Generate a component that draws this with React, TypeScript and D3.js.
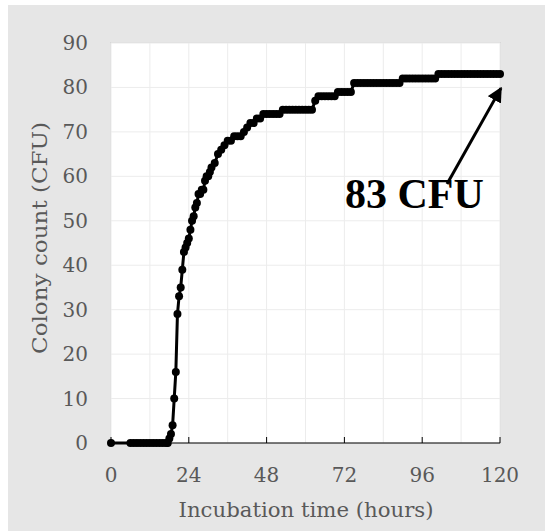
import React from "react";
import * as d3 from "d3";

const timesHours: number[] = [
  0, 6, 7, 8, 9, 10, 11, 12, 13, 14, 15, 16, 17, 17.5, 18, 18.5, 19, 19.5, 20, 20.5,
  21, 21.5, 22, 22.5, 23, 23.5, 24, 24.5, 25, 25.5, 26, 26.5, 27, 27.5, 28, 28.5,
  29, 29.5, 30, 30.5, 31, 32, 33, 34, 35, 36, 37, 38, 39, 40, 41, 42, 43, 44, 45,
  46, 47, 48, 49, 50, 51, 52, 53, 54, 55, 56, 57, 58, 59, 60, 61, 62, 63, 64, 65,
  66, 67, 68, 69, 70, 71, 72, 73, 74, 75, 76, 77, 78, 79, 80, 81, 82, 83, 84, 85,
  86, 87, 88, 89, 90, 91, 92, 93, 94, 95, 96, 97, 98, 99, 100, 101, 102, 103, 104,
  105, 106, 107, 108, 109, 110, 111, 112, 113, 114, 115, 116, 117, 118, 119, 120,
];

const colonyCounts: number[] = [
  0, 0, 0, 0, 0, 0, 0, 0, 0, 0, 0, 0, 0, 0, 1, 2, 4, 10, 16, 29,
  33, 35, 39, 43, 44, 45, 46, 48, 50, 51, 53, 54, 56, 56, 57, 57,
  59, 60, 60, 61, 62, 63, 65, 66, 67, 68, 68, 69, 69, 69, 70, 71, 72, 72, 73,
  73, 74, 74, 74, 74, 74, 74, 75, 75, 75, 75, 75, 75, 75, 75, 75, 75, 77, 78, 78,
  78, 78, 78, 78, 79, 79, 79, 79, 79, 81, 81, 81, 81, 81, 81, 81, 81, 81, 81, 81,
  81, 81, 81, 81, 82, 82, 82, 82, 82, 82, 82, 82, 82, 82, 82, 83, 83, 83, 83,
  83, 83, 83, 83, 83, 83, 83, 83, 83, 83, 83, 83, 83, 83, 83, 83,
];

const xTicks: number[] = [0, 24, 48, 72, 96, 120];
const xGrid: number[] = [0, 12, 24, 36, 48, 60, 72, 84, 96, 108, 120];
const yTicks: number[] = [0, 10, 20, 30, 40, 50, 60, 70, 80, 90];

const xTitle = "Incubation time (hours)";
const yTitle = "Colony count (CFU)";
const annotation = "83 CFU";

export default function App() {
  const W = 545;
  const H = 531;
  const left = 111, right = 500, top = 43, bottom = 443;
  const x = d3.scaleLinear().domain([0, 120]).range([left, right]);
  const y = d3.scaleLinear().domain([0, 90]).range([bottom, top]);
  const data = timesHours.map((t, i) => [t, colonyCounts[i]] as [number, number]);
  const line = d3.line<[number, number]>().x((d) => x(d[0])).y((d) => y(d[1]));
  const labelFont = "'DejaVu Serif', serif";
  const last = data[data.length - 1];

  return (
    <svg width={W} height={H} style={{ position: "absolute", left: 0, top: 0 }}>
      <defs>
        <marker id="ah" viewBox="0 0 10 10" refX="9" refY="5" markerWidth="5" markerHeight="5" orient="auto" markerUnits="strokeWidth">
          <path d="M0,0 L10,5 L0,10 z" fill="#000" />
        </marker>
      </defs>
      <rect x={0} y={0} width={W} height={H} fill="#fff" />
      <rect x={8} y={5} width={W - 8} height={H - 5} fill="#e6e6e6" />
      <rect x={left - 1} y={top - 1} width={right - left + 2} height={bottom - top + 2} fill="#d8d8d8" />
      <rect x={left} y={top} width={right - left} height={bottom - top} fill="#fff" />
      {yTicks.map((v) => (
        <line key={"gy" + v} x1={left} x2={right} y1={y(v)} y2={y(v)} stroke="#ececec" strokeWidth={1} />
      ))}
      {xGrid.map((v) => (
        <line key={"gx" + v} x1={x(v)} x2={x(v)} y1={top} y2={bottom} stroke="#ececec" strokeWidth={1} />
      ))}
      <line x1={left} x2={right} y1={bottom} y2={bottom} stroke="#000" strokeWidth={1} />
      {xTicks.map((v) => (
        <line key={"tx" + v} x1={x(v)} x2={x(v)} y1={bottom} y2={bottom - 6} stroke="#000" strokeWidth={1} />
      ))}
      {xTicks.map((v) => (
        <text key={"lx" + v} x={x(v)} y={482} textAnchor="middle" fontFamily={labelFont} fontSize={20} fill="#595959">
          {v}
        </text>
      ))}
      {yTicks.map((v) => (
        <text key={"ly" + v} x={88} y={y(v) + 7} textAnchor="end" fontFamily={labelFont} fontSize={20} fill="#595959">
          {v}
        </text>
      ))}
      <text x={306} y={517} textAnchor="middle" fontFamily={labelFont} fontSize={20} fill="#595959" textLength={255} lengthAdjust="spacingAndGlyphs">
        {xTitle}
      </text>
      <text transform="translate(47,238) rotate(-90)" textAnchor="middle" fontFamily={labelFont} fontSize={20} fill="#595959" textLength={232} lengthAdjust="spacingAndGlyphs">
        {yTitle}
      </text>
      <path d={line(data) || ""} fill="none" stroke="#000" strokeWidth={3} />
      {data.map((d, i) => (
        <circle key={"p" + i} cx={x(d[0])} cy={y(d[1])} r={4} fill="#000" />
      ))}
      <line x1={447} y1={184} x2={x(last[0]) + 1} y2={y(last[1]) + 14} stroke="#000" strokeWidth={3} markerEnd="url(#ah)" />
      <text x={345} y={208} fontFamily="'Liberation Serif', serif" fontWeight="bold" fontSize={42} fill="#000">
        {annotation}
      </text>
    </svg>
  );
}
